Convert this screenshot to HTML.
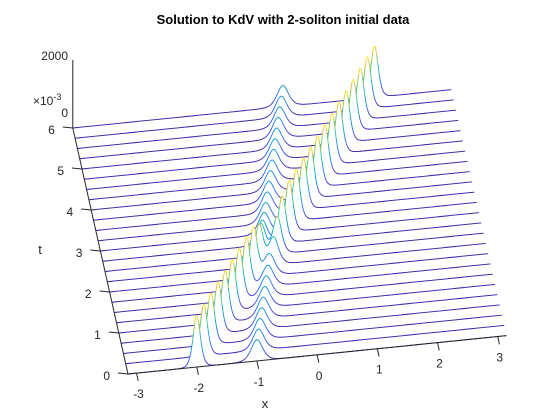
<!DOCTYPE html>
<html>
<head>
<meta charset="utf-8">
<style>
html,body{margin:0;padding:0;background:#fff;}
svg{display:block;font-family:"Liberation Sans",Arial,sans-serif;}
</style>
</head>
<body>
<svg id="chart" width="560" height="420" viewBox="0 0 560 420">
  <rect x="0" y="0" width="560" height="420" fill="#ffffff"/>
  <text x="283" y="24" text-anchor="middle" font-size="13" font-weight="bold" fill="#000">Solution to KdV with 2-soliton initial data</text>
  <g id="surface"></g>
  <g id="axes"></g>
</svg>
<script>
// ---- data ----
const tValues = [0,0.25,0.5,0.75,1,1.25,1.5,1.75,2,2.25,2.5,2.75,3,3.25,3.5,3.75,4,4.25,4.5,4.75,5,5.25,5.5,5.75,6];
const rearHumpPos = [-2.00,-1.844,-1.688,-1.531,-1.375,-1.219,-1.063,-0.906,-0.750,-0.62,-0.55,-0.49,-0.422,-0.358,-0.294,-0.230,-0.166,-0.102,-0.038,0.026,0.090,0.154,0.218,0.282,0.346];
const rearHumpAmp = [1875,1875,1875,1875,1875,1875,1875,1875,1800,1500,1150,900,800,768,768,768,768,768,768,768,768,768,768,768,768];
const frontHumpPos = [-1.00,-0.936,-0.872,-0.808,-0.744,-0.680,-0.616,-0.552,-0.488,-0.38,-0.28,-0.16,-0.005,0.151,0.308,0.464,0.620,0.776,0.933,1.089,1.245,1.401,1.558,1.714,1.870];
const frontHumpAmp = [768,768,768,768,768,768,768,768,800,1000,1350,1700,1875,1875,1875,1875,1875,1875,1875,1875,1875,1875,1875,1875,1875];
const xTickLabels = ["-3","-2","-1","0","1","2","3"];
const xTickValues = [-3,-2,-1,0,1,2,3];
const tTickLabels = ["0","1","2","3","4","5","6"];
const tTickValues = [0,1,2,3,4,5,6];

// ---- projection ----
const PI = Math.PI;
const O = {x:128, y:374};
const XU = {x:60.2, y:-6.1};
const TU = {x:-9.2, y:-41};
const ZK = 0.0277;
function px(x,t){ return O.x + (x+PI)*XU.x + t*TU.x; }
function py(x,t,u){ return O.y + (x+PI)*XU.y + t*TU.y - u*ZK; }

function parula(v){
  const s=[[0,62,38,168],[0.125,70,80,230],[0.25,40,120,240],[0.375,20,150,215],[0.5,15,180,190],[0.625,60,200,140],[0.75,150,200,80],[0.875,240,185,55],[1,249,251,20]];
  v=Math.max(0,Math.min(1,v));
  for(let i=1;i<s.length;i++){ if(v<=s[i][0]){ const a=s[i-1],b=s[i],f=(v-a[0])/(b[0]-a[0]);
    return `rgb(${Math.round(a[1]+f*(b[1]-a[1]))},${Math.round(a[2]+f*(b[2]-a[2]))},${Math.round(a[3]+f*(b[3]-a[3]))})`; } }
  return 'rgb(249,251,20)';
}
function sech2(z){ const c=Math.cosh(z); return 1/(c*c); }

const NS = "http://www.w3.org/2000/svg";
const surf = document.getElementById('surface');
const axes = document.getElementById('axes');
const N = 300;
let uMax = 0;
rearHumpAmp.forEach(v=>{uMax=Math.max(uMax,v);});
frontHumpAmp.forEach(v=>{uMax=Math.max(uMax,v);});

for(let r=tValues.length-1;r>=0;r--){
  const t=tValues[r];
  const wA=2/Math.sqrt(rearHumpAmp[r]/3), wB=2/Math.sqrt(frontHumpAmp[r]/3);
  const pts=[];
  for(let i=0;i<=N;i++){
    const x=-PI+2*PI*i/N;
    const u=rearHumpAmp[r]*sech2((x-rearHumpPos[r])/wA)+frontHumpAmp[r]*sech2((x-frontHumpPos[r])/wB);
    pts.push([px(x,t),py(x,t,u),u]);
  }
  const g=document.createElementNS(NS,'g');
  
  
  const poly=document.createElementNS(NS,'polygon');
  let ps=pts.map(p=>p[0].toFixed(2)+','+p[1].toFixed(2)).join(' ');
  ps+=' '+px(PI,t).toFixed(2)+','+py(PI,t,0).toFixed(2)+' '+px(-PI,t).toFixed(2)+','+py(-PI,t,0).toFixed(2);
  poly.setAttribute('points',ps);
  poly.setAttribute('fill','#fff');
  poly.setAttribute('stroke','none');
  
  
  g.appendChild(poly);
  for(let i=0;i<N;i++){
    const a=pts[i],b=pts[i+1];
    const ln=document.createElementNS(NS,'line');
    ln.setAttribute('x1',a[0].toFixed(2));ln.setAttribute('y1',a[1].toFixed(2));
    ln.setAttribute('x2',b[0].toFixed(2));ln.setAttribute('y2',b[1].toFixed(2));
    ln.setAttribute('stroke',parula((a[2]+b[2])/2/uMax));
    ln.setAttribute('stroke-width','0.9');
    ln.setAttribute('stroke-linecap','round');
    g.appendChild(ln);
  }
  surf.appendChild(g);
}

function addLine(x1,y1,x2,y2,name){
  const l=document.createElementNS(NS,'line');
  l.setAttribute('x1',x1);l.setAttribute('y1',y1);l.setAttribute('x2',x2);l.setAttribute('y2',y2);
  l.setAttribute('stroke','#262626');l.setAttribute('stroke-width','1');
  
  
  axes.appendChild(l);
}
function addText(x,y,s,name,anchor,size){
  const tx=document.createElementNS(NS,'text');
  tx.setAttribute('x',x);tx.setAttribute('y',y);
  tx.setAttribute('text-anchor',anchor||'middle');
  tx.setAttribute('font-size',size||12);
  tx.setAttribute('fill','#262626');
  tx.textContent=s;
  
  
  axes.appendChild(tx);
  return tx;
}
// x axis (front edge)
addLine(px(-PI,0),py(-PI,0,0),px(PI,0),py(PI,0,0),'x-axis-line');
xTickValues.forEach((v,i)=>{
  const x0=px(v,0),y0=py(v,0,0);
  addLine(x0,y0,x0+1.7,y0+7.8,'x-tick');
  addText(x0+2,y0+25,xTickLabels[i],'x-tick-label');
});
addText(265,408,'x','x-axis-title','middle',13);
// t axis (left edge)
addLine(px(-PI,0),py(-PI,0,0),px(-PI,6),py(-PI,6,0),'t-axis-line');
tTickValues.forEach((v,i)=>{
  const x0=px(-PI,v),y0=py(-PI,v,0);
  addLine(x0,y0,x0-10,y0-1,'t-tick');
  addText(x0-18,y0+6,tTickLabels[i],'t-tick-label','end');
});
addText(40,254,'t','t-axis-title','middle',13);
// z axis
const zx=px(-PI,6), zy=py(-PI,6,0);
addLine(zx,zy,zx,60,'z-axis-line');
addText(68,60,'2000','z-tick-label-2000','end');
addText(68,117,'0','z-tick-label-0','end');
const ex=addText(33,105,'','exponent-label','start',12);
ex.innerHTML='<tspan>×10</tspan><tspan dy="-5" font-size="9">-3</tspan>';
</script>
</body>
</html>
